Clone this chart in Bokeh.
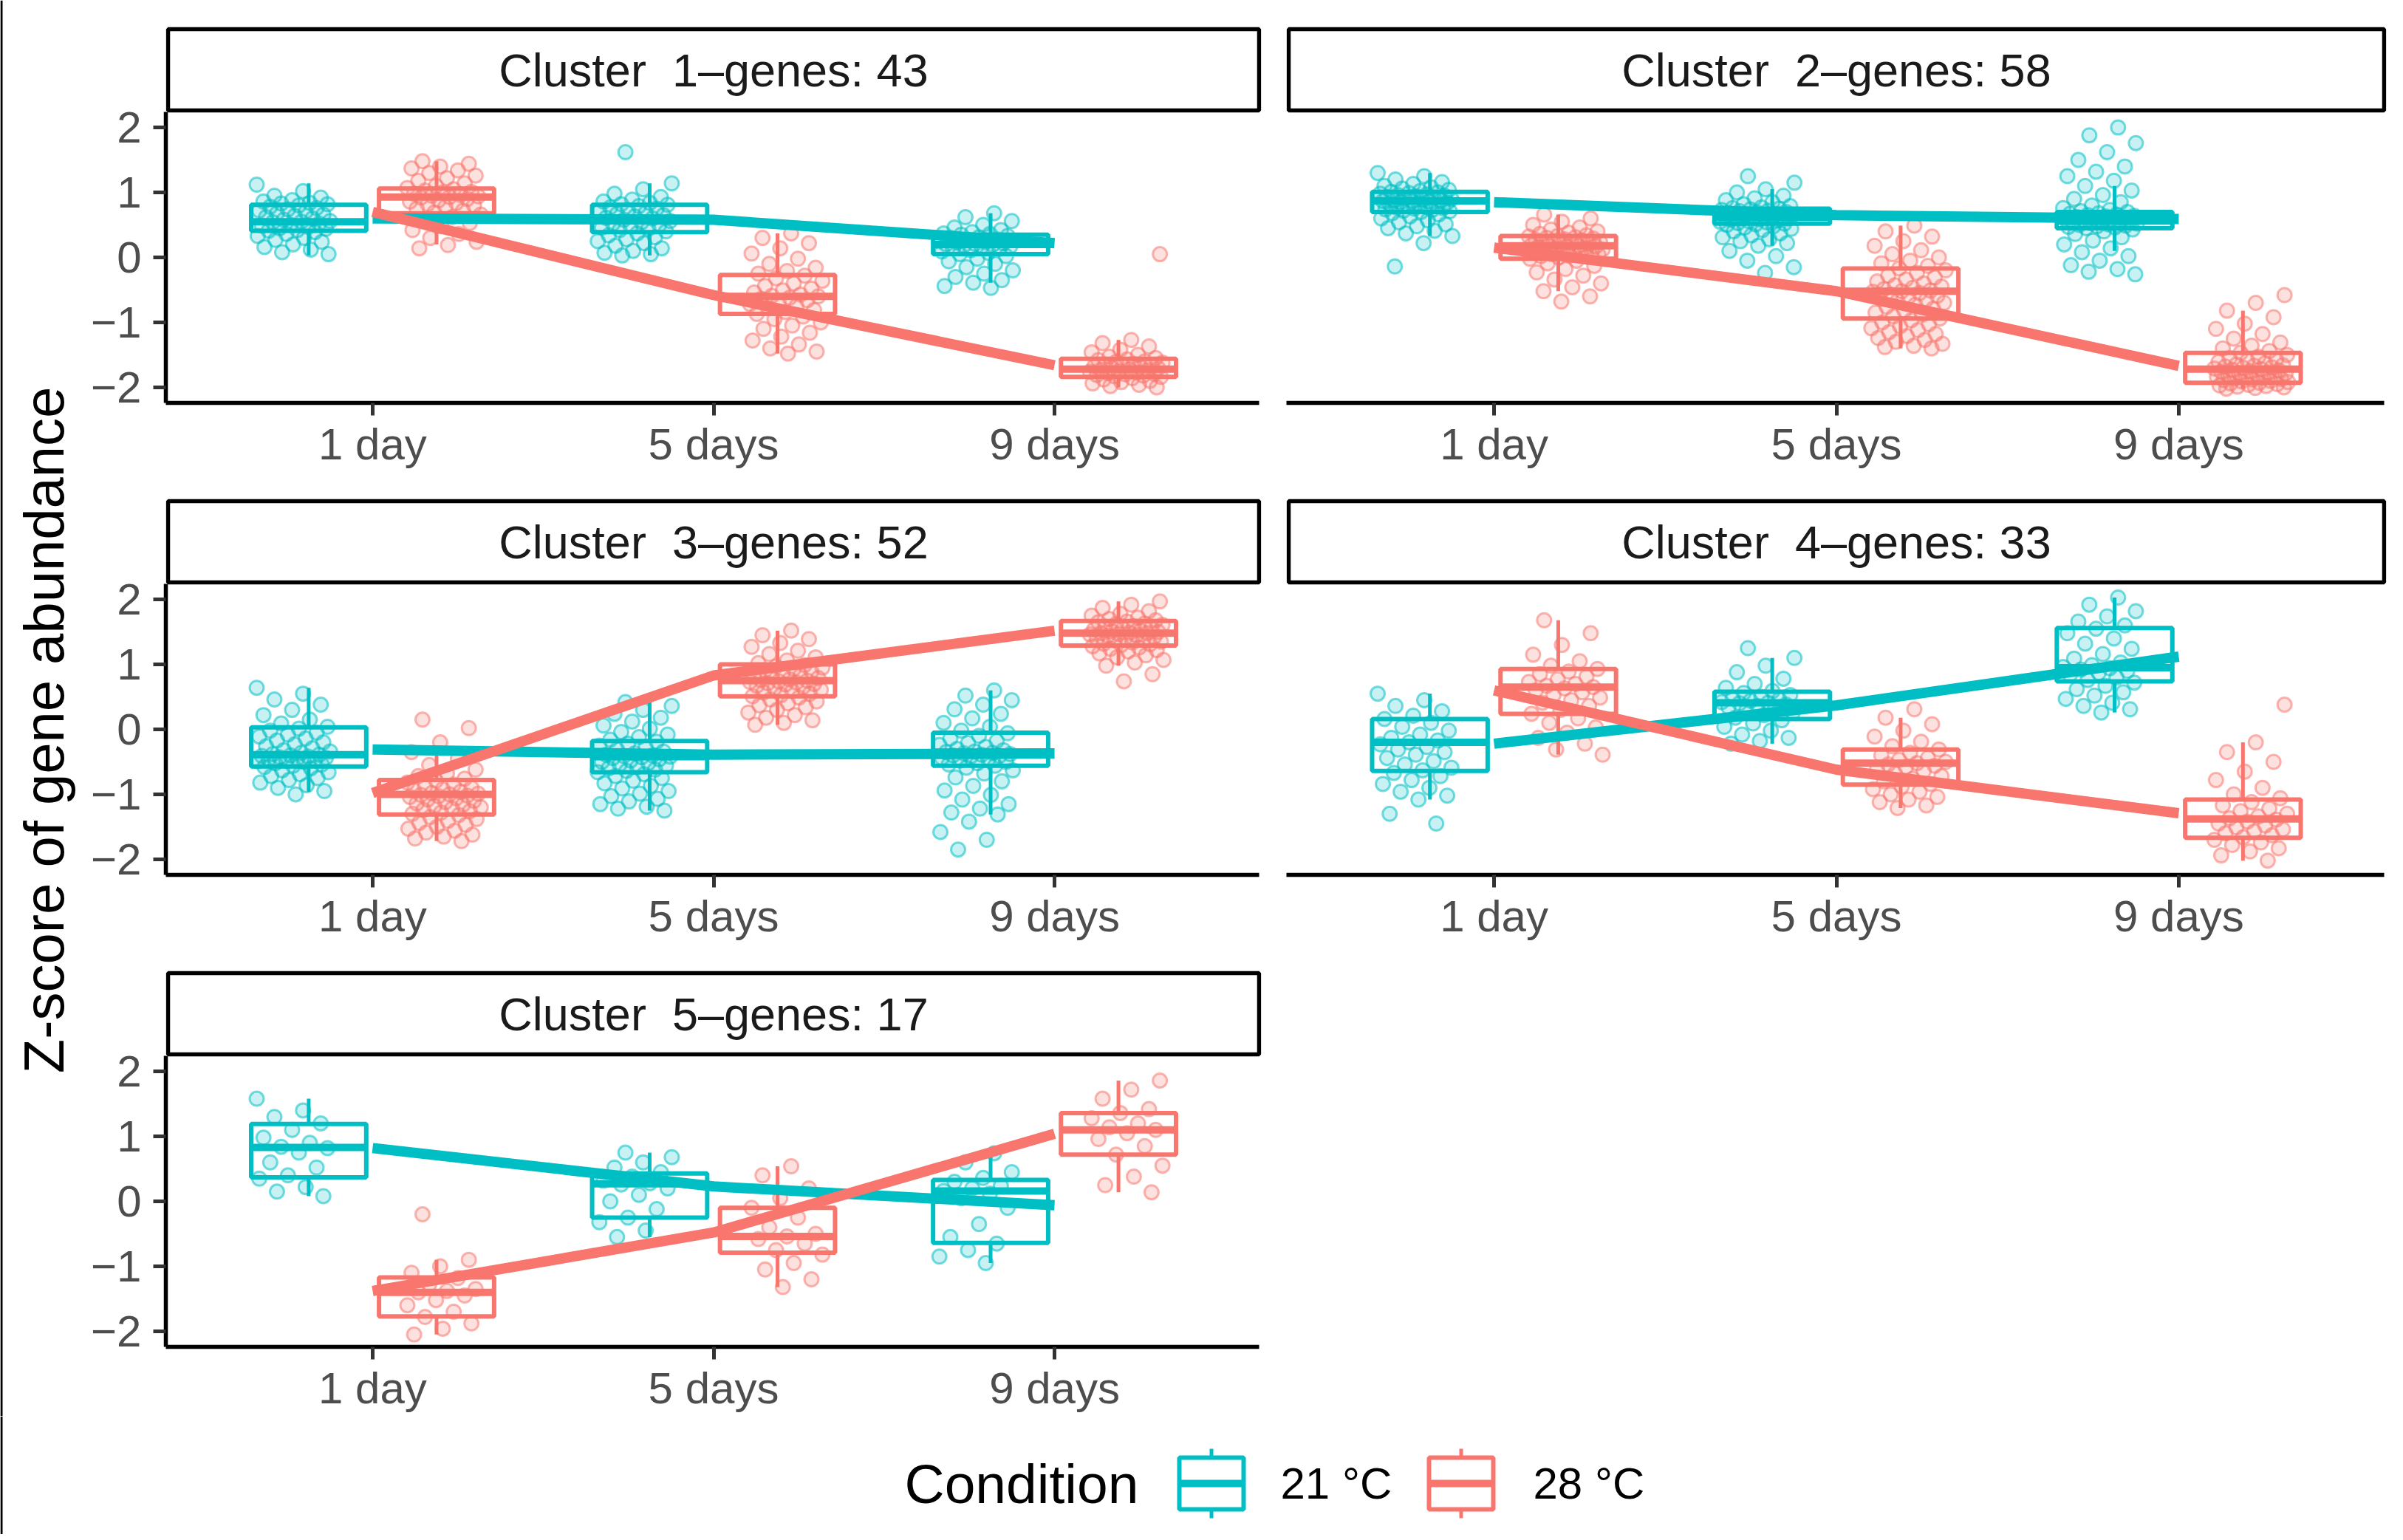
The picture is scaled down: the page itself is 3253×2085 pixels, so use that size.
import numpy as np
from bokeh.plotting import figure
from bokeh.models import Range1d, FixedTicker
from bokeh.layouts import column, row
from bokeh.embed import file_html
from bokeh.resources import INLINE
from bokeh.core.properties import value

# ---------------- data ----------------
time_labels = ["1 day", "5 days", "9 days"]
conditions = ["21 °C", "28 °C"]
cluster_ids = [1, 2, 3, 4, 5]
gene_counts = [43, 58, 52, 33, 17]

# gene z-scores (one list per time point)
c1_21 = [
    [1.12, 1.02, 0.95, 0.92, 0.88, 0.86, 0.84, 0.83, 0.82, 0.80, 0.78, 0.76, 0.74, 0.72, 0.70, 0.68, 0.66, 0.64, 0.62, 0.60,
     0.58, 0.56, 0.55, 0.54, 0.52, 0.50, 0.49, 0.47, 0.45, 0.44, 0.42, 0.41, 0.39, 0.36, 0.33, 0.30, 0.27, 0.24, 0.20, 0.16,
     0.12, 0.08, 0.05],
    [1.62, 1.14, 1.05, 0.98, 0.93, 0.89, 0.86, 0.84, 0.82, 0.81, 0.79, 0.77, 0.75, 0.73, 0.71, 0.69, 0.67, 0.65, 0.63, 0.61,
     0.60, 0.58, 0.56, 0.54, 0.52, 0.50, 0.48, 0.46, 0.44, 0.42, 0.40, 0.37, 0.34, 0.31, 0.28, 0.25, 0.22, 0.18, 0.14, 0.10,
     0.07, 0.05, 0.03],
    [0.68, 0.62, 0.56, 0.50, 0.46, 0.42, 0.39, 0.37, 0.36, 0.35, 0.33, 0.31, 0.30, 0.28, 0.27, 0.25, 0.24, 0.23, 0.22, 0.21,
     0.20, 0.19, 0.18, 0.17, 0.16, 0.14, 0.13, 0.11, 0.09, 0.07, 0.05, 0.02, -0.02, -0.06, -0.10, -0.15, -0.20, -0.25, -0.30,
     -0.35, -0.39, -0.44, -0.47],
]
c1_28 = [
    [1.48, 1.44, 1.40, 1.37, 1.34, 1.30, 1.26, 1.22, 1.18, 1.14, 1.10, 1.07, 1.05, 1.03, 1.01, 1.00, 0.98, 0.96, 0.95, 0.94,
     0.93, 0.92, 0.90, 0.88, 0.86, 0.84, 0.82, 0.80, 0.78, 0.75, 0.72, 0.69, 0.66, 0.62, 0.58, 0.53, 0.48, 0.42, 0.36, 0.30,
     0.24, 0.19, 0.14],
    [0.37, 0.30, 0.22, 0.14, 0.06, -0.02, -0.10, -0.16, -0.21, -0.25, -0.28, -0.32, -0.36, -0.40, -0.44, -0.48, -0.51, -0.54,
     -0.57, -0.59, -0.60, -0.62, -0.64, -0.66, -0.69, -0.72, -0.75, -0.78, -0.81, -0.84, -0.87, -0.91, -0.95, -1.00, -1.05,
     -1.10, -1.16, -1.22, -1.28, -1.34, -1.40, -1.45, -1.48],
    [0.05, -1.27, -1.32, -1.37, -1.42, -1.46, -1.50, -1.53, -1.55, -1.57, -1.58, -1.60, -1.61, -1.62, -1.64, -1.65, -1.66,
     -1.67, -1.68, -1.69, -1.70, -1.71, -1.72, -1.73, -1.74, -1.75, -1.76, -1.77, -1.78, -1.79, -1.80, -1.81, -1.82, -1.83,
     -1.84, -1.86, -1.88, -1.90, -1.92, -1.94, -1.96, -1.98, -2.00],
]
c2_21 = [
    [1.30, 1.25, 1.20, 1.16, 1.13, 1.10, 1.08, 1.06, 1.04, 1.02, 1.01, 1.00, 0.99, 0.98, 0.97, 0.96, 0.95, 0.94, 0.93, 0.92,
     0.91, 0.90, 0.89, 0.88, 0.88, 0.87, 0.87, 0.86, 0.85, 0.84, 0.83, 0.82, 0.81, 0.80, 0.79, 0.78, 0.77, 0.76, 0.75, 0.74,
     0.73, 0.72, 0.71, 0.70, 0.68, 0.66, 0.63, 0.60, 0.57, 0.54, 0.51, 0.48, 0.45, 0.41, 0.37, 0.33, 0.22, -0.14],
    [1.25, 1.15, 1.05, 1.00, 0.95, 0.91, 0.88, 0.85, 0.82, 0.79, 0.77, 0.76, 0.75, 0.74, 0.73, 0.72, 0.71, 0.70, 0.69, 0.68,
     0.67, 0.66, 0.65, 0.64, 0.63, 0.63, 0.62, 0.62, 0.61, 0.60, 0.60, 0.59, 0.58, 0.57, 0.56, 0.55, 0.54, 0.53, 0.52, 0.51,
     0.50, 0.48, 0.46, 0.44, 0.42, 0.40, 0.37, 0.34, 0.31, 0.28, 0.25, 0.22, 0.18, 0.10, 0.02, -0.05, -0.15, -0.24],
    [2.00, 1.88, 1.76, 1.62, 1.50, 1.40, 1.32, 1.25, 1.18, 1.10, 1.03, 0.96, 0.90, 0.85, 0.80, 0.76, 0.73, 0.71, 0.70, 0.68,
     0.67, 0.66, 0.65, 0.64, 0.63, 0.62, 0.61, 0.60, 0.59, 0.58, 0.57, 0.56, 0.56, 0.55, 0.54, 0.53, 0.52, 0.51, 0.50, 0.49,
     0.48, 0.47, 0.46, 0.45, 0.43, 0.40, 0.36, 0.31, 0.26, 0.20, 0.14, 0.08, 0.02, -0.05, -0.12, -0.18, -0.22, -0.26],
]
c2_28 = [
    [0.66, 0.60, 0.55, 0.50, 0.46, 0.43, 0.40, 0.38, 0.36, 0.34, 0.33, 0.32, 0.31, 0.30, 0.29, 0.28, 0.27, 0.26, 0.25, 0.24,
     0.23, 0.22, 0.21, 0.20, 0.19, 0.18, 0.18, 0.17, 0.16, 0.15, 0.14, 0.13, 0.12, 0.11, 0.10, 0.09, 0.08, 0.07, 0.06, 0.05,
     0.04, 0.03, 0.02, 0.01, 0.00, -0.02, -0.05, -0.09, -0.13, -0.18, -0.23, -0.28, -0.34, -0.40, -0.46, -0.52, -0.60, -0.68],
    [0.49, 0.40, 0.32, 0.25, 0.18, 0.11, 0.05, 0.00, -0.05, -0.09, -0.13, -0.17, -0.20, -0.24, -0.28, -0.31, -0.34, -0.37,
     -0.40, -0.43, -0.45, -0.47, -0.49, -0.51, -0.52, -0.53, -0.55, -0.57, -0.59, -0.61, -0.63, -0.65, -0.67, -0.70, -0.73,
     -0.76, -0.79, -0.82, -0.85, -0.88, -0.91, -0.94, -0.97, -1.00, -1.03, -1.06, -1.09, -1.12, -1.15, -1.18, -1.21, -1.24,
     -1.27, -1.30, -1.33, -1.36, -1.38, -1.40],
    [-0.58, -0.70, -0.82, -0.92, -1.02, -1.10, -1.18, -1.25, -1.31, -1.36, -1.40, -1.44, -1.47, -1.50, -1.53, -1.55, -1.57,
     -1.59, -1.61, -1.63, -1.65, -1.66, -1.67, -1.68, -1.69, -1.70, -1.71, -1.72, -1.73, -1.74, -1.75, -1.76, -1.77, -1.78,
     -1.79, -1.80, -1.81, -1.82, -1.83, -1.84, -1.85, -1.86, -1.87, -1.88, -1.89, -1.90, -1.91, -1.92, -1.93, -1.94, -1.95,
     -1.96, -1.97, -1.98, -1.99, -2.00, -2.01, -2.02],
]
c3_21 = [
    [0.64, 0.55, 0.46, 0.38, 0.30, 0.22, 0.15, 0.09, 0.04, 0.01, -0.02, -0.05, -0.08, -0.11, -0.14, -0.17, -0.20, -0.23, -0.26,
     -0.29, -0.32, -0.34, -0.36, -0.38, -0.39, -0.40, -0.41, -0.42, -0.43, -0.44, -0.45, -0.46, -0.47, -0.48, -0.49, -0.50,
     -0.52, -0.54, -0.56, -0.58, -0.60, -0.63, -0.66, -0.69, -0.72, -0.75, -0.78, -0.82, -0.86, -0.90, -0.95, -1.00],
    [0.42, 0.36, 0.30, 0.24, 0.18, 0.12, 0.06, 0.01, -0.04, -0.08, -0.12, -0.16, -0.19, -0.22, -0.25, -0.28, -0.31, -0.34,
     -0.37, -0.39, -0.40, -0.41, -0.42, -0.43, -0.44, -0.46, -0.48, -0.50, -0.52, -0.54, -0.56, -0.58, -0.60, -0.62, -0.64,
     -0.66, -0.69, -0.72, -0.75, -0.79, -0.83, -0.87, -0.91, -0.95, -0.99, -1.03, -1.07, -1.11, -1.15, -1.19, -1.22, -1.25],
    [0.60, 0.52, 0.45, 0.38, 0.31, 0.24, 0.17, 0.10, 0.04, -0.02, -0.06, -0.10, -0.14, -0.18, -0.21, -0.24, -0.27, -0.30,
     -0.32, -0.34, -0.35, -0.36, -0.37, -0.38, -0.39, -0.40, -0.41, -0.42, -0.44, -0.46, -0.48, -0.50, -0.52, -0.54, -0.56,
     -0.59, -0.63, -0.68, -0.74, -0.80, -0.87, -0.94, -1.01, -1.08, -1.15, -1.22, -1.28, -1.31, -1.42, -1.58, -1.70, -1.85],
]
c3_28 = [
    [0.15, 0.02, -0.20, -0.35, -0.45, -0.55, -0.62, -0.68, -0.72, -0.76, -0.79, -0.82, -0.85, -0.88, -0.90, -0.92, -0.94,
     -0.96, -0.98, -0.99, -1.00, -1.01, -1.02, -1.03, -1.04, -1.06, -1.08, -1.10, -1.12, -1.14, -1.16, -1.18, -1.20, -1.22,
     -1.24, -1.26, -1.28, -1.30, -1.32, -1.35, -1.38, -1.41, -1.44, -1.47, -1.50, -1.53, -1.56, -1.59, -1.62, -1.65, -1.68,
     -1.72],
    [1.52, 1.45, 1.39, 1.33, 1.27, 1.21, 1.16, 1.11, 1.06, 1.02, 0.99, 0.97, 0.95, 0.93, 0.91, 0.89, 0.87, 0.85, 0.83, 0.81,
     0.79, 0.77, 0.76, 0.75, 0.74, 0.73, 0.72, 0.71, 0.70, 0.69, 0.67, 0.65, 0.63, 0.61, 0.59, 0.57, 0.55, 0.53, 0.51, 0.49,
     0.46, 0.43, 0.40, 0.37, 0.34, 0.30, 0.26, 0.22, 0.18, 0.14, 0.10, 0.07],
    [1.97, 1.92, 1.87, 1.82, 1.78, 1.75, 1.72, 1.70, 1.68, 1.66, 1.65, 1.63, 1.62, 1.61, 1.59, 1.58, 1.57, 1.55, 1.54, 1.52,
     1.51, 1.50, 1.49, 1.48, 1.48, 1.47, 1.46, 1.45, 1.44, 1.42, 1.41, 1.40, 1.38, 1.37, 1.35, 1.34, 1.32, 1.31, 1.30, 1.28,
     1.26, 1.24, 1.22, 1.20, 1.17, 1.14, 1.11, 1.07, 1.03, 0.98, 0.85, 0.74],
]
c4_21 = [
    [0.55, 0.45, 0.36, 0.28, 0.21, 0.16, 0.10, 0.04, -0.02, -0.08, -0.13, -0.17, -0.20, -0.23, -0.27, -0.31, -0.35, -0.39,
     -0.44, -0.49, -0.54, -0.59, -0.63, -0.67, -0.72, -0.78, -0.84, -0.90, -0.96, -1.02, -1.08, -1.30, -1.45],
    [1.25, 1.10, 0.98, 0.88, 0.78, 0.70, 0.64, 0.59, 0.56, 0.53, 0.50, 0.48, 0.46, 0.44, 0.42, 0.41, 0.40, 0.38, 0.36, 0.34,
     0.32, 0.29, 0.26, 0.22, 0.18, 0.14, 0.09, 0.04, -0.02, -0.08, -0.13, -0.18, -0.22],
    [2.03, 1.92, 1.82, 1.74, 1.66, 1.60, 1.55, 1.48, 1.40, 1.32, 1.24, 1.16, 1.09, 1.03, 0.99, 0.96, 0.94, 0.92, 0.90, 0.87,
     0.84, 0.80, 0.76, 0.72, 0.67, 0.62, 0.57, 0.52, 0.47, 0.41, 0.36, 0.31, 0.26],
]
c4_28 = [
    [1.68, 1.48, 1.30, 1.15, 1.05, 0.98, 0.93, 0.89, 0.85, 0.81, 0.77, 0.73, 0.70, 0.67, 0.65, 0.63, 0.60, 0.57, 0.53, 0.49,
     0.45, 0.41, 0.36, 0.30, 0.24, 0.17, 0.10, 0.03, -0.05, -0.13, -0.22, -0.31, -0.39],
    [0.31, 0.18, 0.08, -0.02, -0.11, -0.19, -0.26, -0.31, -0.36, -0.40, -0.44, -0.47, -0.50, -0.52, -0.54, -0.56, -0.58,
     -0.61, -0.64, -0.68, -0.72, -0.76, -0.80, -0.84, -0.88, -0.92, -0.96, -1.00, -1.04, -1.08, -1.12, -1.17, -1.21],
    [0.38, -0.20, -0.35, -0.50, -0.65, -0.78, -0.90, -1.00, -1.06, -1.12, -1.17, -1.22, -1.26, -1.30, -1.34, -1.37, -1.39,
     -1.42, -1.45, -1.48, -1.51, -1.54, -1.57, -1.60, -1.63, -1.66, -1.70, -1.74, -1.78, -1.83, -1.88, -1.94, -2.02],
]
c5_21 = [
    [1.58, 1.40, 1.30, 1.20, 1.10, 0.98, 0.90, 0.84, 0.82, 0.75, 0.60, 0.52, 0.40, 0.35, 0.22, 0.15, 0.08],
    [0.75, 0.68, 0.60, 0.52, 0.45, 0.38, 0.32, 0.28, 0.26, 0.20, 0.10, 0.00, -0.12, -0.25, -0.32, -0.45, -0.55],
    [0.74, 0.60, 0.45, 0.36, 0.30, 0.24, 0.20, 0.16, 0.12, 0.05, -0.10, -0.35, -0.55, -0.65, -0.75, -0.85, -0.95],
]
c5_28 = [
    [-0.20, -0.90, -1.00, -1.10, -1.18, -1.28, -1.35, -1.38, -1.40, -1.45, -1.52, -1.60, -1.70, -1.78, -1.88, -1.96, -2.05],
    [0.54, 0.40, 0.20, 0.05, -0.10, -0.25, -0.40, -0.50, -0.54, -0.58, -0.65, -0.75, -0.82, -0.95, -1.05, -1.20, -1.32],
    [1.86, 1.72, 1.58, 1.42, 1.36, 1.28, 1.20, 1.14, 1.10, 1.05, 0.96, 0.85, 0.72, 0.55, 0.38, 0.25, 0.14],
]

# box statistics per time point: [lower whisker, Q1, median, Q3, upper whisker]
c1_21_box = [[0.03, 0.41, 0.55, 0.81, 1.14], [0.03, 0.39, 0.60, 0.81, 1.14], [-0.39, 0.05, 0.20, 0.35, 0.68]]
c1_28_box = [[0.20, 0.68, 0.93, 1.06, 1.48], [-1.48, -0.87, -0.60, -0.27, 0.37], [-2.00, -1.84, -1.72, -1.56, -1.27]]
c2_21_box = [[0.33, 0.70, 0.87, 1.01, 1.30], [0.18, 0.52, 0.62, 0.75, 1.05], [0.10, 0.45, 0.56, 0.70, 1.10]]
c2_28_box = [[-0.52, -0.02, 0.18, 0.33, 0.66], [-1.40, -0.94, -0.52, -0.17, 0.49], [-2.02, -1.93, -1.72, -1.47, -0.82]]
c3_21_box = [[-0.96, -0.57, -0.39, 0.03, 0.64], [-1.25, -0.66, -0.42, -0.18, 0.42], [-1.31, -0.56, -0.35, -0.05, 0.60]]
c3_28_box = [[-1.72, -1.31, -1.00, -0.78, -0.35], [0.07, 0.51, 0.75, 1.00, 1.52], [0.98, 1.29, 1.48, 1.67, 1.97]]
c4_21_box = [[-1.08, -0.64, -0.20, 0.16, 0.55], [-0.22, 0.16, 0.41, 0.58, 1.10], [0.26, 0.74, 0.95, 1.56, 2.03]]
c4_28_box = [[-0.39, 0.24, 0.65, 0.93, 1.68], [-1.21, -0.85, -0.52, -0.31, 0.18], [-2.02, -1.67, -1.38, -1.08, -0.20]]
c5_21_box = [[0.08, 0.37, 0.83, 1.19, 1.58], [-0.55, -0.25, 0.27, 0.43, 0.75], [-0.95, -0.64, 0.16, 0.33, 0.74]]
c5_28_box = [[-2.05, -1.77, -1.40, -1.17, -0.90], [-1.32, -0.79, -0.54, -0.10, 0.54], [0.14, 0.72, 1.10, 1.36, 1.86]]

# trend lines (cluster profile per condition)
c1_21_mean = [0.60, 0.58, 0.22]
c1_28_mean = [0.70, -0.58, -1.66]
c2_21_mean = [0.85, 0.65, 0.59]
c2_28_mean = [0.15, -0.52, -1.67]
c3_21_mean = [-0.31, -0.39, -0.37]
c3_28_mean = [-0.98, 0.83, 1.52]
c4_21_mean = [-0.22, 0.37, 1.12]
c4_28_mean = [0.60, -0.62, -1.29]
c5_21_mean = [0.82, 0.23, -0.06]
c5_28_mean = [-1.38, -0.48, 1.04]

panels = [
    (c1_21, c1_28, c1_21_box, c1_28_box, c1_21_mean, c1_28_mean),
    (c2_21, c2_28, c2_21_box, c2_28_box, c2_21_mean, c2_28_mean),
    (c3_21, c3_28, c3_21_box, c3_28_box, c3_21_mean, c3_28_mean),
    (c4_21, c4_28, c4_21_box, c4_28_box, c4_21_mean, c4_28_mean),
    (c5_21, c5_28, c5_21_box, c5_28_box, c5_21_mean, c5_28_mean),
]

# ---------------- style / layout ----------------
TEAL = "#00BFC4"
RED = "#F8766D"
COLORS = [TEAL, RED]
FONT = "Liberation Sans"

W_YT = 120
W_C1, BL1, BR1 = 1606, 99, 19
W_C2, BL2, BR2 = 1517, 15, 13
H_ROW, BT, BB = 639, 31, 94
H_LEG = 160
FRAME_H = H_ROW - BT - BB

Y_LO, Y_HI = -2.24, 2.24
PPU = 394.0 / (Y_HI - Y_LO)
Y_TOP = Y_LO + FRAME_H / PPU
STRIP_TOP = Y_TOP - 8 / PPU
STRIP_BOT = Y_TOP - 118 / PPU
XPAD = 0.0065
X_LO, X_HI = 0.4 - XPAD, 3.6 + XPAD

BOX_OFF = [-0.1875, 0.1875]
BOX_W = 0.3375
PT_OFF = [-0.23, 0.21]
JIT = 0.11


def make_panel(k, left_col):
    pts21, pts28, box21, box28, mean21, mean28 = panels[k]
    width = W_C1 if left_col else W_C2
    bl, br = (BL1, BR1) if left_col else (BL2, BR2)
    p = figure(width=width, height=H_ROW,
               x_range=Range1d(X_LO, X_HI), y_range=Range1d(Y_LO, Y_TOP),
               output_backend="svg", toolbar_location=None,
               min_border_left=bl, min_border_right=br,
               min_border_top=BT, min_border_bottom=BB,
               y_axis_location="left" if left_col else None)
    p.xgrid.grid_line_color = None
    p.ygrid.grid_line_color = None
    p.outline_line_color = None
    p.background_fill_color = "white"
    p.border_fill_color = "white"

    # strip
    p.quad(left=[0.4], right=[3.6], bottom=[STRIP_BOT], top=[STRIP_TOP],
           fill_color="white", line_color="black", line_width=5.5)
    label = f"Cluster \u00a0{cluster_ids[k]}\u2013genes: {gene_counts[k]}"
    p.text(x=[2.0], y=[(STRIP_TOP + STRIP_BOT) / 2], text=[label],
           text_align="center", text_baseline="middle",
           text_font=value(FONT), text_font_size="63px", text_color="#1A1A1A")

    boxes = [box21, box28]
    pts = [pts21, pts28]
    means = [mean21, mean28]

    # boxplots
    for ci in range(2):
        st = np.array(boxes[ci])
        cx = np.arange(1, 4) + BOX_OFF[ci]
        col = COLORS[ci]
        p.segment(x0=cx, x1=cx, y0=st[:, 3], y1=st[:, 4], line_color=col, line_width=5)
        p.segment(x0=cx, x1=cx, y0=st[:, 1], y1=st[:, 0], line_color=col, line_width=5)
        p.quad(left=cx - BOX_W / 2, right=cx + BOX_W / 2, bottom=st[:, 1], top=st[:, 3],
               fill_color="white", line_color=col, line_width=6)
        p.segment(x0=cx - BOX_W / 2, x1=cx + BOX_W / 2, y0=st[:, 2], y1=st[:, 2],
                  line_color=col, line_width=10)

    # jittered genes
    for ci in range(2):
        xs, ys = [], []
        for t, vals in enumerate(pts[ci]):
            for i, v in enumerate(vals):
                frac = ((i * 0.6180339887 + 0.37 * t + 0.21 * ci) % 1.0) - 0.5
                xs.append(t + 1 + PT_OFF[ci] + frac * 2 * JIT)
                ys.append(v)
        p.scatter(x=xs, y=ys, marker="circle", size=19,
                  fill_color=COLORS[ci], fill_alpha=0.22,
                  line_color=COLORS[ci], line_alpha=0.55, line_width=3)

    # profile lines
    for ci in range(2):
        p.line(x=[1, 2, 3], y=means[ci], line_color=COLORS[ci], line_width=14,
               line_join="round")

    # axes
    xa = p.xaxis[0]
    xa.ticker = FixedTicker(ticks=[1, 2, 3])
    xa.major_label_overrides = {i + 1: lab for i, lab in enumerate(time_labels)}
    xa.bounds = (X_LO, 3.6)
    for ax in p.axis:
        ax.axis_line_color = "black"
        ax.axis_line_width = 5.5
        ax.major_tick_line_color = "#333333"
        ax.major_tick_line_width = 5
        ax.major_tick_out = 17
        ax.major_tick_in = 0
        ax.minor_tick_line_color = None
        ax.major_label_text_font = FONT
        ax.major_label_text_font_size = "60px"
        ax.major_label_text_color = "#4D4D4D"
    xa.major_label_standoff = 5
    if left_col:
        ya = p.yaxis[0]
        ya.ticker = FixedTicker(ticks=[-2, -1, 0, 1, 2])
        ya.major_label_overrides = {-2: "\u22122", -1: "\u22121", 0: "0", 1: "1", 2: "2"}
        ya.bounds = (Y_LO, Y_HI)
        ya.major_label_standoff = 16
    return p


p1 = make_panel(0, True)
p2 = make_panel(1, False)
p3 = make_panel(2, True)
p4 = make_panel(3, False)
p5 = make_panel(4, True)

# y-axis title
H_GRID = 3 * H_ROW
yt = figure(width=W_YT, height=H_GRID, x_range=Range1d(0, W_YT), y_range=Range1d(0, H_GRID),
            output_backend="svg", toolbar_location=None,
            x_axis_location=None, y_axis_location=None,
            min_border_left=0, min_border_right=0, min_border_top=0, min_border_bottom=0)
yt.outline_line_color = None
yt.xgrid.grid_line_color = None
yt.ygrid.grid_line_color = None
yt.segment(x0=[1.5], x1=[1.5], y0=[0], y1=[H_GRID], line_color="black", line_width=3)
yt.text(x=[59], y=[H_GRID - 988], text=["Z-score of gene abundance"], angle=np.pi / 2,
        text_align="center", text_baseline="middle",
        text_font=value(FONT), text_font_size="76px", text_color="black")

# legend
W_TOT = W_YT + W_C1 + W_C2
leg = figure(width=W_TOT, height=H_LEG, x_range=Range1d(0, W_TOT), y_range=Range1d(0, H_LEG),
             output_backend="svg", toolbar_location=None,
             x_axis_location=None, y_axis_location=None,
             min_border_left=0, min_border_right=0, min_border_top=0, min_border_bottom=0)
leg.outline_line_color = None
leg.xgrid.grid_line_color = None
leg.ygrid.grid_line_color = None
leg.segment(x0=[1.5], x1=[1.5], y0=[0], y1=[H_LEG], line_color="black", line_width=3)
LY = H_LEG - 91
leg.text(x=[1224], y=[LY], text=["Condition"], text_align="left", text_baseline="middle",
         text_font=value(FONT), text_font_size="75px", text_color="black")
key_left = [1596, 1934]
lab_x = [1733, 2075]
KW, KH, WH = 87, 35, 47
for ci in range(2):
    kl = key_left[ci]
    kc = kl + KW / 2
    col = COLORS[ci]
    leg.segment(x0=[kc, kc], x1=[kc, kc], y0=[LY + KH, LY - KH], y1=[LY + WH, LY - WH],
                line_color=col, line_width=5)
    leg.quad(left=[kl], right=[kl + KW], bottom=[LY - KH], top=[LY + KH],
             fill_color="white", line_color=col, line_width=6)
    leg.segment(x0=[kl], x1=[kl + KW], y0=[LY], y1=[LY], line_color=col, line_width=10)
    leg.text(x=[lab_x[ci]], y=[LY], text=[conditions[ci]], text_align="left", text_baseline="middle",
             text_font=value(FONT), text_font_size="60px", text_color="black")

grid = column(row(p1, p2), row(p3, p4), row(p5))
root = column(row(yt, grid), leg)

open("out.html", "w").write(file_html(root, INLINE))
